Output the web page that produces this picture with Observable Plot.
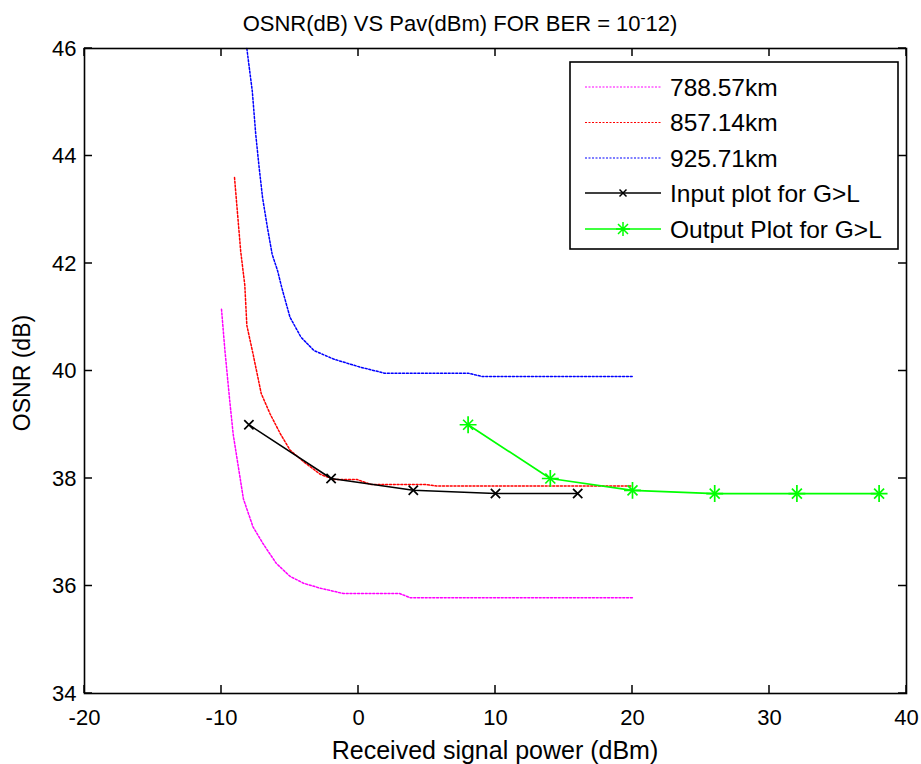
<!DOCTYPE html>
<html><head><meta charset="utf-8">
<script src="https://cdn.jsdelivr.net/npm/d3@7"></script>
<script src="https://cdn.jsdelivr.net/npm/@observablehq/plot@0.6"></script>
<style>body{margin:0;background:#fff;} #chart svg{display:block}</style>
</head><body><div id="chart"></div>
<script>
// ---- data ----
const seriesNames = ["788.57km", "857.14km", "925.71km", "Input plot for G>L", "Output Plot for G>L"];
const seriesColors = ["#ff00ff", "#ff0000", "#0000ff", "#000000", "#00ff00"];

const magX = [-10, -9.75, -9.4, -9.15, -8.4, -7.7, -7, -6, -5, -4, -2.8, -1.1, 3, 3.8, 20];
const magY = [41.15, 40.38, 39.45, 38.83, 37.62, 37.1, 36.8, 36.42, 36.18, 36.05, 35.96, 35.86, 35.86, 35.78, 35.78];

const redX = [-9.05, -8.6, -8.3, -8.15, -7.7, -7.1, -6.45, -5.7, -5, -4, -2.8, -1.8, -0.1, 0.9, 4.8, 5.7, 20];
const redY = [43.6, 42.23, 41.6, 40.85, 40.32, 39.58, 39.2, 38.83, 38.53, 38.31, 38.08, 37.98, 37.98, 37.89, 37.89, 37.86, 37.86];

const blueX = [-8.15, -7.75, -7.5, -7.25, -7.0, -6.65, -6.3, -5.9, -5.6, -5.0, -4.2, -3.25, -1.8, 0.15, 1.9, 8, 9, 20];
const blueY = [46.0, 45.2, 44.4, 43.78, 43.22, 42.67, 42.17, 41.86, 41.55, 41.0, 40.63, 40.38, 40.22, 40.07, 39.96, 39.96, 39.9, 39.9];

const inX = [-8, -2, 4, 10, 16];
const inY = [39, 38, 37.78, 37.72, 37.72];

const outX = [8, 14, 20, 26, 32, 38];
const outY = [39, 38, 37.78, 37.72, 37.72, 37.72];

const xTicks = [-20, -10, 0, 10, 20, 30, 40];
const yTicks = [34, 36, 38, 40, 42, 44, 46];

const titleMain = "OSNR(dB) VS Pav(dBm) FOR BER = 10";
const titleSup = "-";
const titleEnd = "12)";
const xLabel = "Received signal power (dBm)";
const yLabel = "OSNR (dB)";

// ---- layout ----
const W = 921, H = 764, mL = 84, mR = 15, mT = 48, mB = 71;
const font = "'Liberation Sans', Arial, Helvetica, sans-serif";
const pts = (xs, ys) => xs.map((d, i) => ({x: d, y: ys[i]}));

const dotted = (xs, ys, color) => Plot.line(pts(xs, ys), {x: "x", y: "y", stroke: color, strokeWidth: 1.5, strokeDasharray: "2,1.8"});

const chart = Plot.plot({
  width: W, height: H,
  marginLeft: mL, marginRight: mR, marginTop: mT, marginBottom: mB,
  x: {domain: [-20, 40]},
  y: {domain: [34, 46]},
  style: {fontFamily: font, fontSize: "22px", color: "black", background: "white", overflow: "visible"},
  marks: [
    dotted(magX, magY, seriesColors[0]),
    dotted(redX, redY, seriesColors[1]),
    dotted(blueX, blueY, seriesColors[2]),
    Plot.line(pts(inX, inY), {x: "x", y: "y", stroke: seriesColors[3], strokeWidth: 1.6}),
    Plot.dot(pts(inX, inY), {x: "x", y: "y", symbol: "times", r: 4.3, stroke: seriesColors[3], strokeWidth: 1.7}),
    Plot.line(pts(outX, outY), {x: "x", y: "y", stroke: seriesColors[4], strokeWidth: 1.7}),
    Plot.dot(pts(outX, outY), {x: "x", y: "y", symbol: "plus", r: 5.5, stroke: seriesColors[4], strokeWidth: 1.7}),
    Plot.dot(pts(outX, outY), {x: "x", y: "y", symbol: "times", r: 4.6, stroke: seriesColors[4], strokeWidth: 1.7}),
    Plot.frame({stroke: "black", strokeWidth: 1.6}),
    Plot.axisX({ticks: xTicks, tickSize: 0, tickPadding: 16, tickFormat: d => String(d), label: null, fontSize: 22}),
    Plot.axisY({ticks: yTicks, tickSize: 0, tickPadding: 8, tickFormat: d => String(d), label: null, fontSize: 22})
  ]
});
document.getElementById("chart").appendChild(chart);

const svg = d3.select(chart);
const sx = chart.scale("x"), sy = chart.scale("y");
const x0 = mL, x1 = W - mR, y0 = mT, y1 = H - mB, tl = 8;

// ---- inward ticks on all four sides ----
const tg = svg.append("g").attr("stroke", "black").attr("stroke-width", 1.5);
xTicks.forEach(v => {
  const px = sx.apply(v);
  tg.append("line").attr("x1", px).attr("x2", px).attr("y1", y1).attr("y2", y1 - tl);
  tg.append("line").attr("x1", px).attr("x2", px).attr("y1", y0).attr("y2", y0 + tl);
});
yTicks.forEach(v => {
  const py = sy.apply(v);
  tg.append("line").attr("y1", py).attr("y2", py).attr("x1", x0).attr("x2", x0 + tl);
  tg.append("line").attr("y1", py).attr("y2", py).attr("x1", x1).attr("x2", x1 - tl);
});

// ---- titles / labels ----
const t = svg.append("text").attr("x", 460).attr("y", 31).attr("text-anchor", "middle")
  .attr("font-family", font).attr("font-size", 22).attr("fill", "black");
t.append("tspan").text(titleMain);
t.append("tspan").attr("dy", -8).attr("font-size", 15).text(titleSup);
t.append("tspan").attr("dy", 8).text(titleEnd);

svg.append("text").attr("x", (mL + W - mR) / 2).attr("y", 759).attr("text-anchor", "middle")
  .attr("font-family", font).attr("font-size", 25).attr("fill", "black").text(xLabel);
svg.append("text").attr("transform", "translate(30,373) rotate(-90)").attr("text-anchor", "middle")
  .attr("font-family", font).attr("font-size", 23).attr("fill", "black").text(yLabel);

// ---- legend ----
const lg = svg.append("g");
lg.append("rect").attr("x", 570).attr("y", 62).attr("width", 328).attr("height", 187)
  .attr("fill", "white").attr("stroke", "black").attr("stroke-width", 1.6);
const rowY = [87, 122.5, 158, 193, 229];
seriesNames.forEach((name, i) => {
  const y = rowY[i];
  const ln = lg.append("line").attr("x1", 585).attr("x2", 661).attr("y1", y).attr("y2", y)
    .attr("stroke", seriesColors[i]).attr("stroke-width", i < 3 ? 1.2 : 1.5);
  if (i < 3) ln.attr("stroke-dasharray", "2,1.5");
  if (i === 3) {
    lg.append("path").attr("d", `M${623-3.5},${y-3.5}L${623+3.5},${y+3.5}M${623-3.5},${y+3.5}L${623+3.5},${y-3.5}`)
      .attr("stroke", "black").attr("stroke-width", 1.5);
  }
  if (i === 4) {
    const a = 7, b = 5;
    lg.append("path").attr("d", `M${623-a},${y}L${623+a},${y}M623,${y-a}L623,${y+a}M${623-b},${y-b}L${623+b},${y+b}M${623-b},${y+b}L${623+b},${y-b}`)
      .attr("stroke", seriesColors[4]).attr("stroke-width", 1.5);
  }
  lg.append("text").attr("x", 670).attr("y", y).attr("dy", "0.36em").attr("text-anchor", "start")
    .attr("font-family", font).attr("font-size", 24.5).attr("fill", "black").text(name);
});
</script>
</body></html>
